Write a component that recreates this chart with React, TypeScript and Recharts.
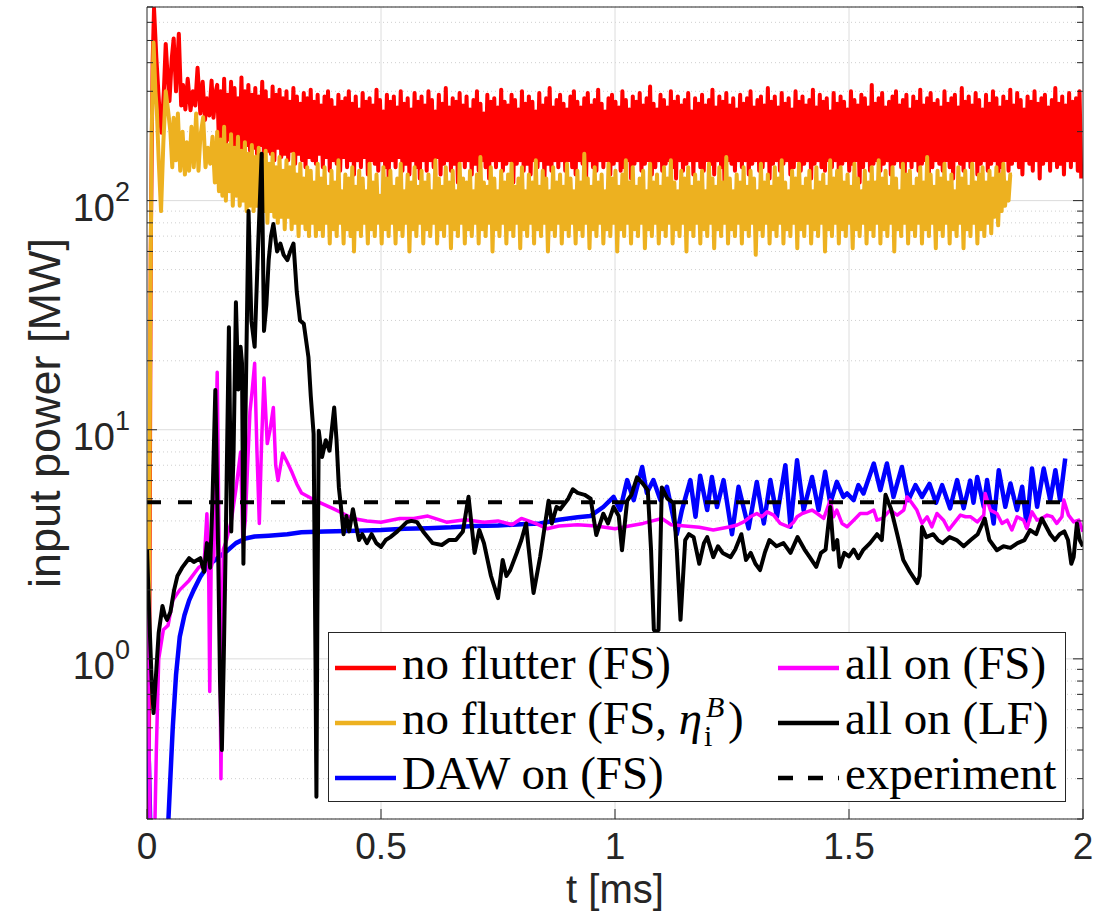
// App.tsx
// ─── Input power vs. time, log axis — Recharts line chart ─────────

import React from "react";
import { LineChart, Line, XAxis, YAxis, CartesianGrid, Legend, Label } from "recharts";

// ─── Axes ──────────────────────────────────────────────────────────
const X_TICKS = [0, 0.5, 1, 1.5, 2];
const Y_MAJOR = [1, 10, 100];
const Y_MINOR = [
  0.2, 0.3, 0.4, 0.5, 0.6, 0.7, 0.8, 0.9,
  2, 3, 4, 5, 6, 7, 8, 9,
  20, 30, 40, 50, 60, 70, 80, 90,
  200, 300, 400, 500, 600, 700,
];
const Y_TICKS = [...Y_MINOR, ...Y_MAJOR].sort((a, b) => a - b);

// ─── no flutter (FS) — red ────────────────────────────────────────
const RED_EARLY: [number, number][] = [
  [0, 0.2], [0.004, 0.3], [0.008, 60], [0.012, 400], [0.015, 690], [0.02, 420],
  [0.026, 260], [0.031, 198], [0.036, 300], [0.04, 483], [0.044, 350], [0.048, 272],
  [0.053, 420], [0.057, 510], [0.062, 300], [0.068, 535], [0.073, 260], [0.077, 320],
  [0.082, 250], [0.087, 340], [0.093, 248], [0.098, 300], [0.103, 260], [0.108, 380],
  [0.114, 240], [0.119, 330], [0.124, 225], [0.128, 280], [0.133, 235], [0.138, 334],
  [0.142, 230], [0.147, 300],
];
// sampled every RED_DT from t = 0.15 ms
const RED_T0 = 0.15;
const RED_DT = 0.0037;
const RED_DENSE = [
  320, 180, 300, 170, 340, 175, 290, 185, 330, 165, 310, 175, 280, 170, 345, 160, 300, 175, 320, 165,
  290, 170, 310, 160, 285, 175, 330, 155, 300, 165, 275, 160, 315, 150, 290, 170, 305, 155, 280, 160,
  300, 150, 270, 165, 310, 145, 285, 160, 265, 150, 295, 140, 280, 155, 305, 150, 270, 145, 290, 160,
  260, 140, 285, 155, 300, 135, 275, 150, 255, 145, 290, 135, 270, 155, 280, 140, 300, 150, 265, 130,
  285, 150, 250, 140, 295, 155, 270, 130, 280, 150, 260, 145, 305, 135, 275, 150, 245, 140, 290, 125,
  270, 150, 285, 140, 255, 155, 300, 135, 265, 145, 280, 130, 250, 150, 295, 140, 270, 125, 285, 150,
  260, 135, 300, 150, 275, 140, 245, 155, 290, 130, 265, 145, 310, 150, 255, 135, 280, 145, 270, 120,
  295, 150, 260, 140, 285, 150, 250, 130, 275, 145, 300, 135, 265, 150, 240, 140, 290, 125, 270, 150,
  280, 140, 255, 150, 305, 135, 270, 145, 260, 150, 290, 120, 275, 145, 250, 150, 300, 135, 265, 145,
  285, 130, 270, 150, 245, 140, 295, 150, 260, 125, 280, 145, 310, 135, 255, 150, 275, 140, 290, 150,
  265, 135, 250, 150, 285, 140, 300, 130, 270, 150, 255, 145, 280, 120, 295, 150, 260, 140, 275, 135,
  305, 150, 265, 140, 245, 150, 280, 130, 290, 145, 270, 150, 255, 135, 300, 140, 275, 150, 250, 125,
  285, 145, 270, 150, 295, 135, 260, 145, 280, 150, 315, 130, 265, 140, 250, 150, 290, 135, 275, 145,
  255, 150, 300, 140, 270, 125, 285, 150, 260, 135, 275, 145, 295, 150, 245, 130, 280, 150, 265, 140,
  290, 135, 260, 150, 275, 145, 305, 130, 255, 150, 285, 140, 270, 115, 295, 150, 260, 145, 280, 135,
  250, 150, 290, 140, 265, 150, 280, 130, 300, 145, 255, 150, 275, 135, 285, 140, 260, 150, 310, 125,
  270, 145, 285, 150, 255, 135, 295, 145, 265, 150, 280, 130, 250, 140, 300, 150, 270, 135, 285, 145,
  260, 150, 275, 125, 305, 145, 255, 150, 290, 140, 270, 135, 280, 150, 245, 140, 295, 150, 265, 130,
  285, 145, 270, 150, 250, 135, 300, 145, 275, 150, 260, 120, 290, 140, 280, 150, 255, 135, 320, 145,
  265, 150, 280, 135, 295, 145, 255, 150, 270, 130, 285, 145, 300, 150, 260, 140, 275, 125, 290, 150,
  250, 140, 285, 150, 270, 135, 305, 145, 260, 150, 280, 130, 295, 140, 265, 150, 275, 145, 255, 135,
  300, 150, 265, 140, 280, 125, 290, 150, 255, 145, 310, 135, 270, 150, 285, 140, 260, 150, 295, 130,
  275, 145, 250, 150, 290, 135, 265, 145, 300, 150, 280, 115, 255, 140, 285, 150, 270, 135, 305, 145,
  260, 150, 295, 140, 275, 130, 250, 150, 285, 145, 270, 135, 300, 150, 265, 125, 280, 145, 290, 150,
  255, 135, 275, 150, 310, 140, 265, 145, 285, 130, 260, 150, 295, 140, 270, 150, 280, 135, 300, 125,
];

// ─── no flutter (FS, eta_i^B) — orange ────────────────────────────
const ORANGE_EARLY: [number, number][] = [
  [0, 0.7], [0.004, 1.2], [0.007, 30], [0.01, 200], [0.014, 490], [0.018, 300],
  [0.021, 248], [0.025, 150], [0.03, 90], [0.035, 180], [0.04, 300], [0.045, 248],
  [0.05, 200], [0.054, 140], [0.057, 230], [0.062, 150], [0.066, 240], [0.071, 135],
  [0.076, 200], [0.081, 130], [0.085, 180], [0.09, 135], [0.095, 210], [0.1, 140],
  [0.105, 240], [0.11, 135], [0.114, 190], [0.12, 231], [0.125, 140], [0.13, 170],
  [0.135, 145], [0.14, 190], [0.145, 120],
];
const ORANGE_T0 = 0.15;
const ORANGE_DT = 0.0037;
const ORANGE_DENSE = [
  200, 110, 185, 105, 210, 100, 175, 110, 195, 95, 170, 105, 190, 95, 165, 100, 180, 90, 160, 95,
  175, 90, 155, 95, 170, 85, 150, 90, 165, 80, 145, 90, 160, 85, 140, 80, 155, 85, 135, 75,
  150, 85, 140, 75, 160, 80, 130, 70, 145, 80, 125, 75, 140, 70, 135, 80, 120, 70, 145, 75,
  125, 70, 140, 80, 115, 65, 135, 75, 120, 70, 150, 80, 110, 65, 130, 75, 125, 70, 140, 60,
  115, 75, 135, 70, 125, 80, 110, 65, 145, 75, 120, 70, 130, 80, 105, 65, 140, 75, 125, 70,
  135, 80, 115, 65, 125, 75, 145, 70, 110, 80, 130, 60, 120, 75, 140, 70, 115, 80, 135, 65,
  120, 75, 130, 70, 110, 80, 150, 65, 125, 75, 115, 70, 140, 80, 120, 62, 135, 75, 110, 70,
  145, 80, 125, 65, 120, 75, 135, 70, 110, 80, 130, 65, 155, 75, 120, 70, 115, 80, 140, 60,
  125, 75, 110, 70, 135, 80, 120, 65, 130, 75, 145, 70, 115, 80, 125, 62, 140, 75, 110, 70,
  130, 80, 120, 65, 150, 75, 115, 70, 135, 80, 125, 60, 110, 75, 140, 70, 120, 80, 130, 65,
  115, 75, 145, 70, 125, 80, 110, 65, 135, 75, 120, 70, 160, 80, 125, 62, 115, 75, 140, 70,
  120, 80, 130, 65, 110, 75, 145, 70, 125, 80, 135, 60, 115, 75, 130, 70, 150, 80, 120, 65,
  140, 75, 115, 70, 125, 80, 135, 62, 110, 75, 145, 70, 120, 80, 130, 65, 115, 75, 140, 70,
  125, 80, 150, 65, 120, 75, 110, 70, 135, 80, 125, 60, 140, 75, 115, 70, 130, 80, 120, 65,
  135, 75, 110, 70, 145, 80, 125, 62, 115, 75, 140, 70, 120, 80, 155, 65, 125, 75, 110, 70,
  130, 80, 120, 65, 140, 75, 115, 70, 135, 80, 125, 58, 110, 75, 145, 70, 120, 80, 130, 65,
  115, 75, 140, 70, 125, 80, 150, 65, 120, 75, 110, 70, 135, 80, 125, 62, 145, 75, 115, 70,
  125, 80, 135, 65, 110, 75, 140, 70, 120, 80, 130, 60, 115, 75, 150, 70, 125, 80, 135, 65,
  140, 75, 120, 70, 130, 80, 115, 62, 145, 75, 125, 70, 110, 80, 135, 65, 120, 75, 140, 70,
  120, 80, 150, 65, 125, 75, 135, 70, 115, 80, 140, 60, 125, 75, 110, 70, 145, 80, 130, 65,
  135, 75, 115, 70, 125, 80, 140, 65, 120, 75, 155, 70, 130, 80, 115, 62, 135, 75, 125, 70,
  145, 80, 120, 65, 130, 75, 110, 70, 140, 80, 125, 62, 135, 75, 115, 70, 145, 80, 120, 65,
  130, 75, 140, 70, 120, 80, 135, 72, 125, 85, 140, 78, 130, 90, 145, 95, 120, 100, 130, 130,
];

// ─── DAW on (FS) — blue ───────────────────────────────────────────
const BLUE: [number, number][] = [
  [0, 0.6], [0.004, 0.35], [0.008, 0.15], [0.03, 0.1], [0.043, 0.15], [0.048, 0.25],
  [0.055, 0.5], [0.062, 0.85], [0.07, 1.25], [0.08, 1.55], [0.09, 1.8], [0.1, 2.0],
  [0.114, 2.28], [0.13, 2.55], [0.15, 2.75], [0.17, 2.95], [0.19, 3.2], [0.21, 3.35],
  [0.23, 3.42], [0.26, 3.45], [0.3, 3.5], [0.33, 3.57], [0.38, 3.6], [0.45, 3.62],
  [0.5, 3.65], [0.55, 3.7], [0.6, 3.72], [0.65, 3.75], [0.7, 3.8], [0.75, 3.82],
  [0.8, 3.87], [0.84, 3.9], [0.88, 4.05], [0.92, 4.15], [0.947, 4.2], [0.975, 4.6],
  [0.997, 5.09], [1.011, 4.46], [1.026, 6.03], [1.04, 4.93], [1.058, 6.88], [1.068, 5.3],
  [1.082, 6.03], [1.097, 4.93], [1.111, 5.64], [1.132, 3.5], [1.143, 4.46], [1.161, 6.03],
  [1.172, 4.17], [1.182, 6.3], [1.197, 4.46], [1.207, 6.22], [1.218, 4.6], [1.232, 6.03],
  [1.25, 3.5], [1.264, 5.64], [1.2855, 3.71], [1.303, 5.92], [1.318, 3.9], [1.332, 6.03],
  [1.346, 4.17], [1.364, 7.0], [1.375, 3.77], [1.389, 7.36], [1.403, 4.46], [1.421, 6.22],
  [1.435, 4.46], [1.449, 6.55], [1.46, 4.77], [1.474, 5.92], [1.488, 5.09], [1.496, 5.27],
  [1.51, 4.93], [1.52, 5.73], [1.531, 5.27], [1.542, 6.13], [1.553, 7.12], [1.567, 5.45],
  [1.581, 7.12], [1.595, 5.09], [1.613, 6.88], [1.627, 4.93], [1.642, 5.73], [1.656, 5.09],
  [1.672, 5.8], [1.686, 4.8], [1.699, 5.73], [1.716, 4.54], [1.731, 6.03], [1.745, 4.54],
  [1.759, 6.0], [1.766, 4.8], [1.774, 6.22], [1.788, 4.61], [1.795, 6.03], [1.809, 3.9],
  [1.82, 6.66], [1.834, 4.61], [1.845, 5.83], [1.859, 4.46], [1.87, 5.64], [1.88, 3.77],
  [1.891, 6.77], [1.902, 4.61], [1.916, 6.77], [1.93, 4.93], [1.941, 6.66], [1.951, 4.93],
  [1.962, 7.49],
];

// ─── all on (FS) — magenta ────────────────────────────────────────
const MAGENTA: [number, number][] = [
  [0, 3.0], [0.004, 0.5], [0.008, 0.12], [0.015, 0.12], [0.02, 0.4], [0.025, 1.0],
  [0.035, 1.34], [0.045, 1.4], [0.055, 1.8], [0.07, 2.0], [0.09, 2.2], [0.11, 2.5],
  [0.122, 2.6], [0.128, 4.3], [0.132, 2.2], [0.134, 0.72], [0.137, 2.5], [0.143, 2.8],
  [0.15, 17.8], [0.155, 2.0], [0.158, 0.3], [0.163, 3.0], [0.17, 3.3], [0.18, 4.0],
  [0.19, 5.5], [0.2, 8.0], [0.205, 3.2], [0.21, 4.0], [0.215, 7.0], [0.22, 12],
  [0.225, 15], [0.23, 19.5], [0.235, 8], [0.24, 3.9], [0.245, 9], [0.25, 16.8],
  [0.257, 8.7], [0.263, 10], [0.27, 12.5], [0.275, 7], [0.28, 6.0], [0.29, 7.9],
  [0.3, 7.2], [0.31, 6.5], [0.32, 5.8], [0.33, 5.3], [0.345, 5.1], [0.36, 4.9],
  [0.38, 4.7], [0.4, 4.5], [0.42, 4.3], [0.44, 4.1], [0.47, 4.0], [0.5, 3.95],
  [0.54, 4.1], [0.57, 4.1], [0.6, 4.2], [0.64, 3.95], [0.68, 4.05], [0.72, 3.95],
  [0.75, 4.0], [0.78, 3.85], [0.8, 4.1], [0.83, 3.9], [0.855, 3.7], [0.88, 3.8],
  [0.92, 3.85], [0.96, 3.8], [1.0, 3.7], [1.03, 3.8], [1.06, 3.9], [1.08, 4.0],
  [1.1, 4.1], [1.12, 3.85], [1.15, 3.8], [1.18, 3.75], [1.21, 3.65], [1.2464, 3.77],
  [1.261, 3.84], [1.275, 3.96], [1.289, 4.17], [1.303, 4.31], [1.314, 4.17], [1.325, 4.38],
  [1.339, 4.24], [1.353, 3.9], [1.371, 3.77], [1.382, 3.96], [1.389, 4.17], [1.4, 4.31],
  [1.41, 4.38], [1.421, 4.46], [1.432, 4.31], [1.446, 4.1], [1.46, 4.93], [1.467, 4.17],
  [1.474, 4.46], [1.485, 3.9], [1.496, 3.77], [1.51, 4.03], [1.524, 4.31], [1.539, 4.31],
  [1.553, 4.46], [1.56, 4.03], [1.571, 4.1], [1.588, 4.46], [1.603, 4.24], [1.617, 4.46],
  [1.624, 5.09], [1.635, 4.77], [1.645, 4.46], [1.656, 3.9], [1.667, 4.17], [1.677, 3.77],
  [1.688, 4.31], [1.702, 4.03], [1.713, 3.65], [1.724, 3.9], [1.738, 4.24], [1.749, 4.17],
  [1.76, 4.17], [1.774, 3.96], [1.788, 4.24], [1.791, 5.27], [1.802, 4.46], [1.816, 4.31],
  [1.827, 3.9], [1.838, 4.03], [1.848, 3.65], [1.859, 4.17], [1.873, 4.03], [1.88, 3.71],
  [1.891, 4.38], [1.902, 4.03], [1.912, 4.1], [1.923, 4.24], [1.934, 4.17], [1.944, 3.9],
  [1.955, 4.17], [1.959, 4.93], [1.969, 4.24], [1.98, 3.96], [1.991, 4.03], [2.0, 3.59],
];

// ─── all on (LF) — black ──────────────────────────────────────────
const BLACK: [number, number][] = [
  [0, 3.0], [0.005, 1.5], [0.01, 0.8], [0.014, 0.58], [0.02, 0.9], [0.025, 1.3],
  [0.033, 1.7], [0.038, 1.55], [0.043, 1.48], [0.05, 1.6], [0.058, 2.0], [0.065, 2.3],
  [0.075, 2.5], [0.09, 2.75], [0.1, 2.65], [0.114, 2.75], [0.122, 2.4], [0.128, 3.2],
  [0.135, 2.5], [0.14, 5], [0.146, 14.9], [0.152, 3], [0.156, 0.8], [0.16, 0.4],
  [0.164, 1.0], [0.168, 3.0], [0.175, 28], [0.18, 3.6], [0.185, 8], [0.19, 36],
  [0.195, 15], [0.2, 23], [0.203, 19.5], [0.206, 2.6], [0.21, 10], [0.217, 90],
  [0.223, 30], [0.23, 23], [0.237, 60], [0.245, 160], [0.25, 27], [0.255, 35],
  [0.26, 55], [0.265, 70], [0.27, 79], [0.278, 60], [0.285, 65], [0.292, 58],
  [0.3, 55], [0.306, 60], [0.313, 65], [0.32, 40], [0.327, 30], [0.335, 29],
  [0.345, 20.7], [0.35, 14], [0.356, 9.6], [0.36, 1.0], [0.362, 0.25], [0.364, 1.5],
  [0.367, 9.9], [0.374, 7.6], [0.382, 9], [0.39, 8.1], [0.4, 12.5], [0.405, 9],
  [0.41, 5.6], [0.415, 4.5], [0.42, 3.5], [0.426, 4.2], [0.432, 3.6], [0.44, 4.5],
  [0.447, 3.8], [0.453, 3.3], [0.46, 3.5], [0.47, 3.2], [0.48, 3.5], [0.49, 3.2],
  [0.5, 3.08], [0.51, 3.3], [0.52, 3.4], [0.535, 3.6], [0.555, 3.95], [0.565, 4.0],
  [0.577, 3.95], [0.59, 3.6], [0.61, 3.2], [0.63, 3.14], [0.645, 3.3], [0.66, 3.3],
  [0.675, 3.6], [0.687, 5.1], [0.7, 2.9], [0.71, 3.65], [0.72, 3.2], [0.735, 2.3],
  [0.75, 1.84], [0.76, 2.7], [0.768, 2.3], [0.776, 2.44], [0.79, 2.9], [0.8, 3.3],
  [0.81, 3.9], [0.815, 3.1], [0.826, 1.94], [0.84, 2.78], [0.85, 3.8], [0.858, 4.9],
  [0.865, 3.9], [0.875, 4.6], [0.883, 4.5], [0.9, 5.0], [0.91, 5.5], [0.92, 5.3],
  [0.935, 5.2], [0.948, 5.0], [0.96, 3.47], [0.975, 4.3], [0.985, 3.9], [0.997, 4.6],
  [1.008, 4.2], [1.015, 2.98], [1.026, 4.9], [1.035, 5.2], [1.047, 6.2], [1.06, 5.8],
  [1.07, 5.45], [1.077, 3.0], [1.083, 1.34], [1.088, 1.3], [1.093, 1.34], [1.1, 5.6],
  [1.112, 5.0], [1.125, 4.8], [1.132, 3.0], [1.14, 1.48], [1.15, 3.3], [1.158, 3.5],
  [1.168, 3.4], [1.18, 2.6], [1.19, 3.2], [1.197, 3.4], [1.21, 2.78], [1.22, 3.1],
  [1.23, 2.9], [1.247, 2.78], [1.257, 3.0], [1.27, 3.5], [1.28, 2.7], [1.29, 2.9],
  [1.3, 2.6], [1.31, 2.44], [1.32, 2.9], [1.33, 3.3], [1.345, 3.1], [1.36, 3.2],
  [1.375, 2.9], [1.39, 3.4], [1.405, 3.0], [1.415, 2.8], [1.43, 2.52], [1.44, 2.9],
  [1.45, 3.0], [1.46, 4.6], [1.467, 3.0], [1.475, 3.3], [1.48, 2.52], [1.49, 2.9],
  [1.5, 2.8], [1.51, 3.0], [1.52, 2.75], [1.53, 2.98], [1.545, 3.2], [1.56, 3.5],
  [1.57, 3.3], [1.578, 5.2], [1.59, 4.5], [1.603, 3.5], [1.616, 2.7], [1.63, 2.4],
  [1.646, 2.14], [1.651, 2.3], [1.656, 3.76], [1.665, 3.4], [1.68, 3.5], [1.69, 3.3],
  [1.7, 3.2], [1.715, 3.4], [1.73, 3.3], [1.745, 3.1], [1.76, 3.3], [1.775, 3.5],
  [1.79, 4.1], [1.8, 3.3], [1.816, 2.98], [1.83, 3.1], [1.845, 3.05], [1.86, 3.2],
  [1.875, 3.3], [1.887, 3.65], [1.9, 3.5], [1.912, 4.1], [1.93, 3.5], [1.94, 3.3],
  [1.95, 3.5], [1.96, 3.6], [1.968, 3.3], [1.975, 2.6], [1.98, 2.78], [1.987, 3.9],
  [1.993, 3.3], [2.0, 3.1],
];

// ─── experiment — dashed level ────────────────────────────────────
const EXPERIMENT: [number, number][] = [[0, 4.83], [1.965, 4.83]];

// ─── Colours ──────────────────────────────────────────────────────
const RED = "#ff0000";
const ORANGE = "#edb120";
const BLUE_C = "#0000ff";
const MAGENTA_C = "#ff00ff";
const BLACK_C = "#000000";
const AXIS = "#262626";
const SANS = '"Liberation Sans", Arial, Helvetica, sans-serif';
const SERIF = '"Liberation Serif", "Times New Roman", serif';

type Pt = { t: number; v: number };
const fromPairs = (p: [number, number][]): Pt[] => p.map(([t, v]) => ({ t, v }));
const fromGrid = (t0: number, dt: number, vs: number[]): Pt[] =>
  vs.map((v, i) => ({ t: t0 + i * dt, v }));

const redData = [...fromPairs(RED_EARLY), ...fromGrid(RED_T0, RED_DT, RED_DENSE)];
const orangeData = [...fromPairs(ORANGE_EARLY), ...fromGrid(ORANGE_T0, ORANGE_DT, ORANGE_DENSE)];
const blueData = fromPairs(BLUE);
const magentaData = fromPairs(MAGENTA);
const blackData = fromPairs(BLACK);
const expData = fromPairs(EXPERIMENT);

// ─── Tick renderers (MATLAB style: ticks point inward) ────────────
function LeftTick({ x, y, payload }: any) {
  const v = payload.value as number;
  const major = Y_MAJOR.includes(v);
  return (
    <g>
      <line x1={x} x2={x + (major ? 10 : 6)} y1={y} y2={y} stroke={AXIS} strokeWidth={1} />
      {major && (
        <text x={x - 17} y={y + 20} textAnchor="end" fontFamily={SANS} fontSize={38} fill={AXIS}>
          10
          <tspan dy={-20} fontSize={27}>
            {Math.round(Math.log10(v))}
          </tspan>
        </text>
      )}
    </g>
  );
}

function RightTick({ x, y, payload }: any) {
  const major = Y_MAJOR.includes(payload.value);
  return <line x1={x} x2={x - (major ? 10 : 6)} y1={y} y2={y} stroke={AXIS} strokeWidth={1} />;
}

function BottomTick({ x, y, payload }: any) {
  return (
    <g>
      <line x1={x} x2={x} y1={y} y2={y - 10} stroke={AXIS} strokeWidth={1} />
      <text x={x} y={y + 40} textAnchor="middle" fontFamily={SANS} fontSize={37} fill={AXIS}>
        {payload.value}
      </text>
    </g>
  );
}

function TopTick({ x, y }: any) {
  return <line x1={x} x2={x} y1={y} y2={y + 10} stroke={AXIS} strokeWidth={1} />;
}

// ─── Legend ───────────────────────────────────────────────────────
const EtaLabel = () => (
  <>
    no flutter (FS, <i>η</i>
    <span style={{ position: "relative", display: "inline-block", width: 26, height: 0 }}>
      <i style={{ position: "absolute", left: 4, bottom: 12, fontSize: 30, lineHeight: 1 }}>B</i>
      <span style={{ position: "absolute", left: 2, bottom: -17, fontSize: 30, lineHeight: 1 }}>i</span>
    </span>
    )
  </>
);

const LEGEND_ENTRIES = [
  { id: "red", color: RED, label: <>no flutter (FS)</>, col: 0, row: 0 },
  { id: "orange", color: ORANGE, label: <EtaLabel />, col: 0, row: 1 },
  { id: "blue", color: BLUE_C, label: <>DAW on (FS)</>, col: 0, row: 2 },
  { id: "magenta", color: MAGENTA_C, label: <>all on (FS)</>, col: 1, row: 0 },
  { id: "black", color: BLACK_C, label: <>all on (LF)</>, col: 1, row: 1 },
  { id: "exp", color: BLACK_C, label: <>experiment</>, col: 1, row: 2, dash: "15 15" },
];

function LegendBox() {
  const rowY = [30, 85, 140];
  return (
    <div
      style={{
        position: "relative",
        width: 738,
        height: 170,
        boxSizing: "border-box",
        border: "1px solid #262626",
        background: "#fff",
        fontFamily: SERIF,
        fontSize: 47,
        color: "#000",
      }}
    >
      {LEGEND_ENTRIES.map((e) => (
        <div
          key={e.id}
          style={{
            position: "absolute",
            left: e.col ? 449 : 6,
            top: rowY[e.row] - 30,
            height: 60,
            display: "flex",
            alignItems: "center",
            whiteSpace: "nowrap",
          }}
        >
          <svg width={61} height={18} style={{ flex: "none" }}>
            <line x1={0} x2={61} y1={14} y2={14} stroke={e.color} strokeWidth={4.5} strokeDasharray={e.dash} />
          </svg>
          <span style={{ marginLeft: 6, lineHeight: 1 }}>{e.label}</span>
        </div>
      ))}
    </div>
  );
}

// ─── Chart ────────────────────────────────────────────────────────
export default function App() {
  return (
    <div style={{ position: "absolute", left: 0, top: 0, width: 1107, height: 914, background: "#fff" }}>
      <LineChart width={1107} height={914} margin={{ top: 0, right: 0, bottom: 0, left: 0 }}>
        <CartesianGrid horizontalValues={Y_MINOR} vertical={false} stroke="#cfcfcf" strokeDasharray="1 3" />
        <CartesianGrid horizontalValues={Y_MAJOR} verticalValues={[0.5, 1, 1.5]} stroke="#dcdcdc" />

        <XAxis
          dataKey="t"
          type="number"
          domain={[0, 2]}
          ticks={X_TICKS}
          interval={0}
          allowDataOverflow
          height={95}
          tickSize={0}
          tickMargin={0}
          tickLine={false}
          axisLine={{ stroke: AXIS, strokeWidth: 1 }}
          tick={(p: any) => <BottomTick {...p} />}
        >
          <Label
            content={({ viewBox }: any) => (
              <text
                x={viewBox.x + viewBox.width / 2}
                y={viewBox.y + 84}
                textAnchor="middle"
                fontFamily={SANS}
                fontSize={40}
                fill={AXIS}
              >
                t [ms]
              </text>
            )}
          />
        </XAxis>
        <XAxis
          xAxisId="top"
          orientation="top"
          dataKey="t"
          type="number"
          domain={[0, 2]}
          ticks={X_TICKS}
          interval={0}
          height={7}
          tickSize={0}
          tickMargin={0}
          tickLine={false}
          axisLine={{ stroke: AXIS, strokeWidth: 1 }}
          tick={(p: any) => <TopTick {...p} />}
        />
        <YAxis
          scale="log"
          type="number"
          domain={[0.2, 700]}
          ticks={Y_TICKS}
          interval={0}
          allowDataOverflow
          width={147}
          tickSize={0}
          tickMargin={0}
          tickLine={false}
          axisLine={{ stroke: AXIS, strokeWidth: 1 }}
          tick={(p: any) => <LeftTick {...p} />}
        >
          <Label
            content={({ viewBox }: any) => {
              const cy = viewBox.y + viewBox.height / 2;
              return (
                <text
                  x={60}
                  y={cy}
                  transform={`rotate(-90, 60, ${cy})`}
                  textAnchor="middle"
                  fontFamily={SANS}
                  fontSize={45}
                  fill={AXIS}
                >
                  input power [MW]
                </text>
              );
            }}
          />
        </YAxis>
        <YAxis
          yAxisId="right"
          orientation="right"
          scale="log"
          type="number"
          domain={[0.2, 700]}
          ticks={Y_TICKS}
          interval={0}
          allowDataOverflow
          width={24}
          tickSize={0}
          tickMargin={0}
          tickLine={false}
          axisLine={{ stroke: AXIS, strokeWidth: 1 }}
          tick={(p: any) => <RightTick {...p} />}
        />

        <Line data={redData} dataKey="v" name="no flutter (FS)" stroke={RED} strokeWidth={4} dot={false} isAnimationActive={false} strokeLinejoin="round" />
        <Line data={orangeData} dataKey="v" name="no flutter (FS, eta)" stroke={ORANGE} strokeWidth={4} dot={false} isAnimationActive={false} strokeLinejoin="round" />
        <Line data={blueData} dataKey="v" name="DAW on (FS)" stroke={BLUE_C} strokeWidth={4.5} dot={false} isAnimationActive={false} strokeLinejoin="round" />
        <Line data={magentaData} dataKey="v" name="all on (FS)" stroke={MAGENTA_C} strokeWidth={3.5} dot={false} isAnimationActive={false} strokeLinejoin="round" />
        <Line data={blackData} dataKey="v" name="all on (LF)" stroke={BLACK_C} strokeWidth={4} dot={false} isAnimationActive={false} strokeLinejoin="round" />
        <Line data={expData} dataKey="v" name="experiment" stroke={BLACK_C} strokeWidth={4} strokeDasharray="14 17" dot={false} isAnimationActive={false} />

        <Legend
          layout="vertical"
          align="center"
          verticalAlign="middle"
          content={() => <LegendBox />}
          wrapperStyle={{ left: 328, top: 632, width: 738, height: 170 }}
        />
      </LineChart>
    </div>
  );
}
